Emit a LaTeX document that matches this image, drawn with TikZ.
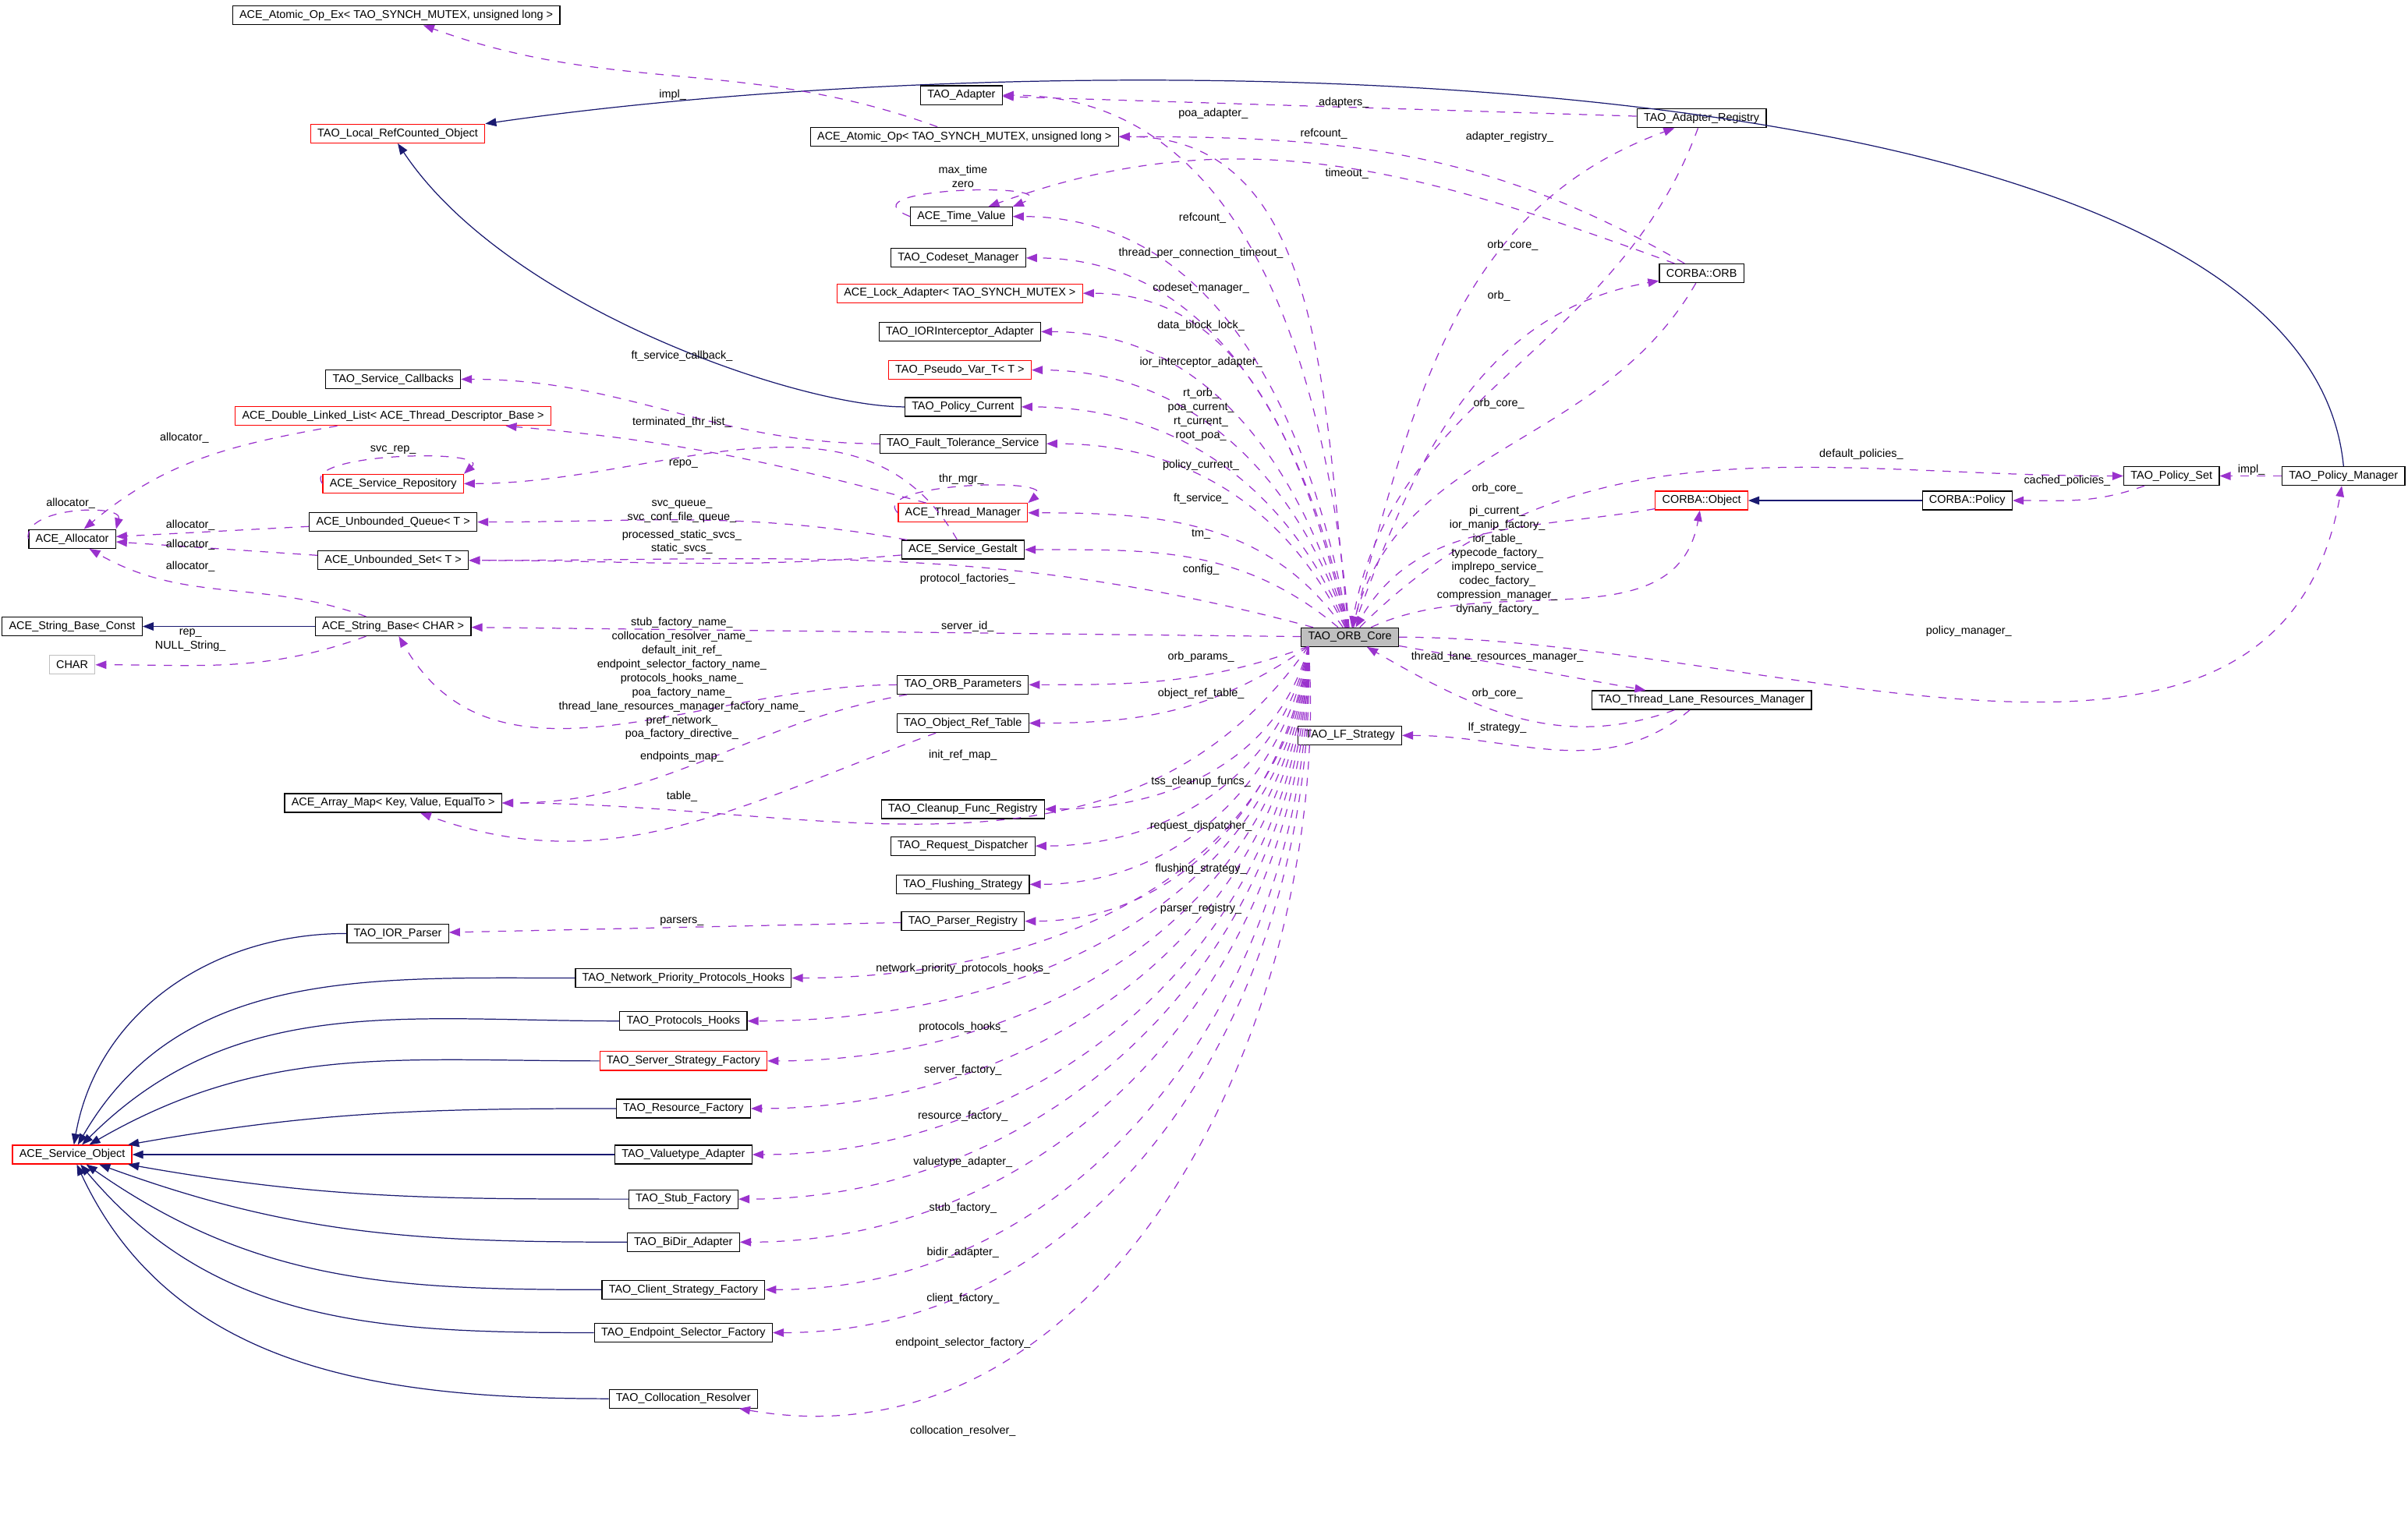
\documentclass[tikz,border=0pt]{standalone}
\usepackage{fontspec}
\setmainfont{Liberation Sans}
\usetikzlibrary{arrows.meta}
\definecolor{usecol}{RGB}{154,50,205}
\definecolor{inhcol}{RGB}{25,25,112}
\tikzset{
  box/.style={draw=black, fill=white, inner xsep=2.5pt, inner ysep=0pt, minimum height=0.24cm, line width=0.35pt, font=\fontsize{4.1}{5}\selectfont},
  redbox/.style={box, draw=red},
  graybox/.style={box, draw=black!25},
  corebox/.style={box, fill=black!25},
  member/.style={draw=usecol, dashed, line width=0.35pt, -{Triangle[width=3pt,length=4pt]}},
  inh/.style={draw=inhcol, line width=0.35pt, -{Triangle[width=3pt,length=4pt]}},
  lbl/.style={font=\fontsize{4.1}{5.1}\selectfont, align=center, inner sep=0pt},
}
\newcommand{\lt}{\textless}
\newcommand{\gt}{\textgreater}
\begin{document}
\begin{tikzpicture}[x=0.01969cm, y=-0.01969cm]
\useasboundingbox (0,0) rectangle (1568,995);
% classes
\node[box] (atomicex) at (258,10) {ACE\_Atomic\_Op\_Ex\lt{} TAO\_SYNCH\_MUTEX, unsigned long \gt};
\node[redbox] (localrc) at (259,87) {TAO\_Local\_RefCounted\_Object};
\node[box] (adapter) at (626,62) {TAO\_Adapter};
\node[box] (atomic) at (628,89) {ACE\_Atomic\_Op\lt{} TAO\_SYNCH\_MUTEX, unsigned long \gt};
\node[box] (areg) at (1108,77) {TAO\_Adapter\_Registry};
\node[box] (timeval) at (626,141) {ACE\_Time\_Value};
\node[box] (codeset) at (624,168) {TAO\_Codeset\_Manager};
\node[redbox] (lockad) at (625,191) {ACE\_Lock\_Adapter\lt{} TAO\_SYNCH\_MUTEX \gt};
\node[box] (iorint) at (625,216) {TAO\_IORInterceptor\_Adapter};
\node[redbox] (pseudo) at (625,241) {TAO\_Pseudo\_Var\_T\lt{} T \gt};
\node[box] (polcur) at (627,265) {TAO\_Policy\_Current};
\node[box] (ftserv) at (627,289) {TAO\_Fault\_Tolerance\_Service};
\node[box] (svccb) at (256,247) {TAO\_Service\_Callbacks};
\node[redbox] (dllist) at (256,271) {ACE\_Double\_Linked\_List\lt{} ACE\_Thread\_Descriptor\_Base \gt};
\node[redbox] (svcrep) at (256,315) {ACE\_Service\_Repository};
\node[redbox] (thrmgr) at (627,334) {ACE\_Thread\_Manager};
\node[box] (alloc) at (47,351) {ACE\_Allocator};
\node[box] (uqueue) at (256,340) {ACE\_Unbounded\_Queue\lt{} T \gt};
\node[box] (uset) at (256,365) {ACE\_Unbounded\_Set\lt{} T \gt};
\node[box] (gestalt) at (627,358) {ACE\_Service\_Gestalt};
\node[box] (sbconst) at (47,408) {ACE\_String\_Base\_Const};
\node[box] (sbase) at (256,408) {ACE\_String\_Base\lt{} CHAR \gt};
\node[graybox] (char) at (47,433) {CHAR};
\node[box] (corb) at (1108,178) {CORBA::ORB};
\node[redbox] (cobj) at (1108,326) {CORBA::Object};
\node[box] (cpol) at (1281,326) {CORBA::Policy};
\node[box] (polset) at (1414,310) {TAO\_Policy\_Set};
\node[box] (polmgr) at (1526,310) {TAO\_Policy\_Manager};
\node[corebox] (core) at (879,415) {TAO\_ORB\_Core};
\node[box] (tlrm) at (1108,456) {TAO\_Thread\_Lane\_Resources\_Manager};
\node[box] (lfstrat) at (879,479) {TAO\_LF\_Strategy};
\node[box] (orbparams) at (627,446) {TAO\_ORB\_Parameters};
\node[box] (objref) at (627,471) {TAO\_Object\_Ref\_Table};
\node[box] (amap) at (256,523) {ACE\_Array\_Map\lt{} Key, Value, EqualTo \gt};
\node[box] (cleanup) at (627,527) {TAO\_Cleanup\_Func\_Registry};
\node[box] (reqdisp) at (627,551) {TAO\_Request\_Dispatcher};
\node[box] (flush) at (627,576) {TAO\_Flushing\_Strategy};
\node[box] (parsreg) at (627,600) {TAO\_Parser\_Registry};
\node[box] (iorparser) at (259,608) {TAO\_IOR\_Parser};
\node[box] (netprio) at (445,637) {TAO\_Network\_Priority\_Protocols\_Hooks};
\node[box] (prothooks) at (445,665) {TAO\_Protocols\_Hooks};
\node[redbox] (srvfact) at (445,691) {TAO\_Server\_Strategy\_Factory};
\node[box] (resfact) at (445,722) {TAO\_Resource\_Factory};
\node[box] (valadapt) at (445,752) {TAO\_Valuetype\_Adapter};
\node[box] (stubfact) at (445,781) {TAO\_Stub\_Factory};
\node[box] (bidir) at (445,809) {TAO\_BiDir\_Adapter};
\node[box] (clifact) at (445,840) {TAO\_Client\_Strategy\_Factory};
\node[box] (epsel) at (445,868) {TAO\_Endpoint\_Selector\_Factory};
\node[box] (collres) at (445,911) {TAO\_Collocation\_Resolver};
\node[redbox] (svcobj) at (47,752) {ACE\_Service\_Object};
\coordinate (corebl) at (852,421);
% inheritance
\draw[inh] (polmgr.north) .. controls (1500,30) and (700,25) .. (localrc.north east);
\draw[inh] (polcur.west) .. controls (520,265) and (330,200) .. (localrc.south);
\draw[inh] (sbase) -- (sbconst);
\draw[inh] (cpol) -- (cobj);
\draw[inh] (iorparser.west) to[out=180,in=80] (svcobj);
\draw[inh] (netprio.west) to[out=180,in=60] (svcobj);
\draw[inh] (prothooks.west) to[out=180,in=45] (svcobj);
\draw[inh] (srvfact.west) to[out=180,in=30] (svcobj);
\draw[inh] (resfact.west) to[out=180,in=10] (svcobj);
\draw[inh] (valadapt.west) to[out=180,in=0] (svcobj);
\draw[inh] (stubfact.west) to[out=180,in=-10] (svcobj);
\draw[inh] (bidir.west) to[out=180,in=-20] (svcobj);
\draw[inh] (clifact.west) to[out=180,in=-35] (svcobj);
\draw[inh] (epsel.west) to[out=180,in=-50] (svcobj);
\draw[inh] (collres.west) to[out=180,in=-65] (svcobj);
% members of TAO_ORB_Core
\draw[member] (core) to[out=95,in=0] (adapter);
\draw[member] (core) to[out=97,in=0] (atomic);
\draw[member] (core) to[out=100,in=0] (timeval);
\draw[member] (core) to[out=102,in=0] (codeset);
\draw[member] (core) to[out=104,in=0] (lockad);
\draw[member] (core) to[out=106,in=0] (iorint);
\draw[member] (core) to[out=108,in=0] (pseudo);
\draw[member] (core) to[out=112,in=0] (polcur);
\draw[member] (core) to[out=116,in=0] (ftserv);
\draw[member] (core) to[out=125,in=0] (thrmgr);
\draw[member] (core) to[out=140,in=0] (gestalt);
\draw[member] (core) to[out=165,in=0] (uset);
\draw[member] (core) -- (sbase);
\draw[member] (corebl) to[out=200,in=0] (orbparams);
\draw[member] (corebl) to[out=215,in=0] (objref);
\draw[member] (corebl) to[out=235,in=0] (amap);
\draw[member] (corebl) to[out=255,in=0] (cleanup);
\draw[member] (corebl) to[out=258,in=0] (reqdisp);
\draw[member] (corebl) to[out=260,in=0] (flush);
\draw[member] (corebl) to[out=262,in=0] (parsreg);
\draw[member] (corebl) to[out=264,in=0] (netprio);
\draw[member] (corebl) to[out=265,in=0] (prothooks);
\draw[member] (corebl) to[out=266,in=0] (srvfact);
\draw[member] (corebl) to[out=267,in=0] (resfact);
\draw[member] (corebl) to[out=268,in=0] (valadapt);
\draw[member] (corebl) to[out=269,in=0] (stubfact);
\draw[member] (corebl) to[out=270,in=0] (bidir);
\draw[member] (corebl) to[out=271,in=0] (clifact);
\draw[member] (corebl) to[out=272,in=0] (epsel);
\draw[member] (corebl) to[out=274,in=-10] (collres);
\draw[member] (core) to[out=75,in=200] (areg);
\draw[member] (core) to[out=70,in=190] (corb);
\draw[member] (core) to[out=25,in=260] (cobj);
\draw[member] (core) to[out=45,in=180] (polset);
\draw[member] (core) to[out=0,in=260] (polmgr);
\draw[member] (core) to[out=-10,in=170] (tlrm);
% other members
\draw[member] (areg) -- (adapter);
\draw[member] (areg) to[out=250,in=80] (core);
\draw[member] (atomic) to[out=160,in=-20] (atomicex);
\draw[member] (corb) to[out=150,in=0] (atomic);
\draw[member] (corb) to[out=160,in=20] (timeval);
\draw[member] (corb) to[out=240,in=75] (core);
\draw[member] (timeval.west) .. controls (545,122) and (700,118) .. (timeval.north east);
\draw[member] (cobj) to[out=190,in=60] (core);
\draw[member] (polset) to[out=200,in=0] (cpol);
\draw[member] (polmgr) -- (polset);
\draw[member] (tlrm) to[out=200,in=-30] (core);
\draw[member] (tlrm) to[out=220,in=0] (lfstrat);
\draw[member] (ftserv) to[out=180,in=0] (svccb);
\draw[member] (thrmgr) to[out=165,in=-5] (dllist);
\draw[member] (thrmgr.west) .. controls (565,315) and (690,310) .. (thrmgr.north east);
\draw[member] (svcrep.west) .. controls (195,295) and (320,292) .. (svcrep.north east);
\draw[member] (gestalt) to[out=120,in=0] (svcrep);
\draw[member] (gestalt) to[out=170,in=0] (uqueue);
\draw[member] (gestalt) to[out=185,in=0] (uset);
\draw[member] (dllist) to[out=190,in=40] (alloc);
\draw[member] (alloc.west) .. controls (15,330) and (80,328) .. (alloc.north east);
\draw[member] (uqueue) -- (alloc);
\draw[member] (uset) -- (alloc);
\draw[member] (sbase) to[out=160,in=-30] (alloc);
\draw[member] (sbase) to[out=200,in=0] (char);
\draw[member] (orbparams) to[out=180,in=-60] (sbase);
\draw[member] (orbparams) to[out=190,in=0] (amap);
\draw[member] (objref) to[out=200,in=-20] (amap);
\draw[member] (parsreg) -- (iorparser);
% labels
\node[lbl] (limpl) at (438,62) {impl\_};
\node[lbl] (lpoaad) at (790,74) {poa\_adapter\_};
\node[lbl] (ladapters) at (875,67) {adapters\_};
\node[lbl] (lrefc1) at (862,87) {refcount\_};
\node[lbl] (lrefc2) at (783,142) {refcount\_};
\node[lbl] (lmaxt) at (627,115) {max\_time\\zero};
\node[lbl] (ltimeout) at (877,113) {timeout\_};
\node[lbl] (ltpct) at (782,165) {thread\_per\_connection\_timeout\_};
\node[lbl] (lareg) at (983,89) {adapter\_registry\_};
\node[lbl] (lcodeset) at (782,188) {codeset\_manager\_};
\node[lbl] (loc1) at (985,160) {orb\_core\_};
\node[lbl] (ldbl) at (782,212) {data\_block\_lock\_};
\node[lbl] (lorb) at (976,193) {orb\_};
\node[lbl] (liorint) at (782,236) {ior\_interceptor\_adapter\_};
\node[lbl] (lftcb) at (444,232) {ft\_service\_callback\_};
\node[lbl] (lrtorb) at (782,270) {rt\_orb\_\\poa\_current\_\\rt\_current\_\\root\_poa\_};
\node[lbl] (lterm) at (444,275) {terminated\_thr\_list\_};
\node[lbl] (loc2) at (976,263) {orb\_core\_};
\node[lbl] (ldefpol) at (1212,296) {default\_policies\_};
\node[lbl] (lpolcur) at (782,303) {policy\_current\_};
\node[lbl] (lsvcrep) at (256,293) {svc\_rep\_};
\node[lbl] (lrepo) at (445,302) {repo\_};
\node[lbl] (lthrmgr) at (626,312) {thr\_mgr\_};
\node[lbl] (loc3) at (975,318) {orb\_core\_};
\node[lbl] (limpl2) at (1466,306) {impl\_};
\node[lbl] (lcached) at (1346,313) {cached\_policies\_};
\node[lbl] (lft) at (782,325) {ft\_service\_};
\node[lbl] (lsvcq) at (444,333) {svc\_queue\_\\svc\_conf\_file\_queue\_};
\node[lbl] (lal1) at (120,285) {allocator\_};
\node[lbl] (lal2) at (46,328) {allocator\_};
\node[lbl] (lal3) at (124,342) {allocator\_};
\node[lbl] (ltm) at (782,348) {tm\_};
\node[lbl] (lpicur) at (975,365) {pi\_current\_\\ior\_manip\_factory\_\\ior\_table\_\\typecode\_factory\_\\implrepo\_service\_\\codec\_factory\_\\compression\_manager\_\\dynany\_factory\_};
\node[lbl] (lstatic) at (444,353) {processed\_static\_svcs\_\\static\_svcs\_};
\node[lbl] (lal4) at (124,355) {allocator\_};
\node[lbl] (lconfig) at (782,371) {config\_};
\node[lbl] (lal5) at (124,369) {allocator\_};
\node[lbl] (lprotf) at (630,377) {protocol\_factories\_};
\node[lbl] (lsrvid) at (630,408) {server\_id\_};
\node[lbl] (lrep) at (124,417) {rep\_\\NULL\_String\_};
\node[lbl] (lnames) at (444,442) {stub\_factory\_name\_\\collocation\_resolver\_name\_\\default\_init\_ref\_\\endpoint\_selector\_factory\_name\_\\protocols\_hooks\_name\_\\poa\_factory\_name\_\\thread\_lane\_resources\_manager\_factory\_name\_\\pref\_network\_\\poa\_factory\_directive\_};
\node[lbl] (lpolmgr) at (1282,411) {policy\_manager\_};
\node[lbl] (lorbpar) at (782,428) {orb\_params\_};
\node[lbl] (ltlrm) at (975,428) {thread\_lane\_resources\_manager\_};
\node[lbl] (lobjref) at (782,452) {object\_ref\_table\_};
\node[lbl] (loc4) at (975,452) {orb\_core\_};
\node[lbl] (llf) at (975,474) {lf\_strategy\_};
\node[lbl] (linit) at (627,492) {init\_ref\_map\_};
\node[lbl] (lepmap) at (444,493) {endpoints\_map\_};
\node[lbl] (ltss) at (782,509) {tss\_cleanup\_funcs\_};
\node[lbl] (ltable) at (444,519) {table\_};
\node[lbl] (lreqd) at (782,538) {request\_dispatcher\_};
\node[lbl] (lflush) at (782,566) {flushing\_strategy\_};
\node[lbl] (lpreg) at (782,592) {parser\_registry\_};
\node[lbl] (lparsers) at (444,600) {parsers\_};
\node[lbl] (lnetp) at (627,631) {network\_priority\_protocols\_hooks\_};
\node[lbl] (lproth) at (627,669) {protocols\_hooks\_};
\node[lbl] (lsrvf) at (627,697) {server\_factory\_};
\node[lbl] (lresf) at (627,727) {resource\_factory\_};
\node[lbl] (lvala) at (627,757) {valuetype\_adapter\_};
\node[lbl] (lstubf) at (627,787) {stub\_factory\_};
\node[lbl] (lbidir) at (627,816) {bidir\_adapter\_};
\node[lbl] (lclif) at (627,846) {client\_factory\_};
\node[lbl] (lepsel) at (627,875) {endpoint\_selector\_factory\_};
\node[lbl] (lcollr) at (627,932) {collocation\_resolver\_};
\end{tikzpicture}
\end{document}
